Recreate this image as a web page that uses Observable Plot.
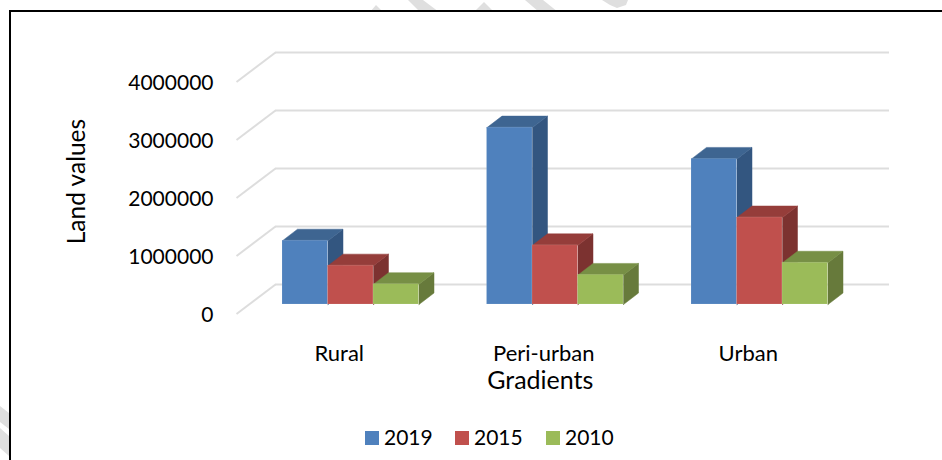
<!DOCTYPE html>
<html><head><meta charset="utf-8">
<script src="https://cdn.jsdelivr.net/npm/d3@7"></script>
<script src="https://cdn.jsdelivr.net/npm/@observablehq/plot@0.6"></script>
<style>
html,body{margin:0;padding:0;background:#fff;width:942px;height:460px;overflow:hidden;font-family:Lato,sans-serif;color:#000}
#frame{position:absolute;left:9px;top:10px;right:-5px;bottom:-5px;border-left:2.6px solid #000;border-top:2px solid #000;background:#fff}
#chart{position:absolute;left:0;top:0}
#chart svg{display:block;background:transparent}
#legend{position:absolute;left:0;top:420px;width:942px;height:40px}
#legend span{position:absolute;font-size:21px;line-height:34px;top:0}
#legend i{position:absolute;width:14px;height:14px;top:11px}
.wm{position:absolute;left:0;top:0;width:942px;height:460px;background:#dfdfdf}
</style></head><body>
<div id="marks"></div>
<div id="frame"></div>
<div id="chart"></div>
<div id="legend"></div>
<script>
const categories = ["Rural", "Peri-urban", "Urban"];
const years = ["2019", "2015", "2010"];
const v2019 = [1100000, 3050000, 2510000];
const v2015 = [670000, 1020000, 1500000];
const v2010 = [350000, 510000, 720000];
const yTicks = [0, 1000000, 2000000, 3000000, 4000000];
const frontColors = ["#4f81bd", "#c0504d", "#9bbb59"];
const topColors = ["#3e6591", "#953d3a", "#778f45"];
const sideColors = ["#335680", "#7c3230", "#677a3b"];
const seriesValues = [v2019, v2015, v2010];

// faint watermark strokes outside the framed area (page decoration, not data)
const watermark = [
  "370px 12px,376px 5px,383px 12px",
  "408px 0,423px 0,439px 12px,420px 12px",
  "474px 12px,484px 2px,494px 12px",
  "525px 0,543px 0,558px 12px,539px 12px",
  "602px 0,628px 0,626px 5px,617px 8px,610px 5px",
  "0 406px,9px 413px,9px 429px,0 422px",
  "0 428px,9px 436px,9px 456px,0 448px"
];
const marksLayer = d3.select("#marks");
watermark.forEach(p => marksLayer.append("div").attr("class", "wm").style("clip-path", `polygon(${p})`));

// chart-space projection: x in category steps, y in land-value units
const stepPx = 204.5, unitPx = 58 / 1e6, H = 420, W = 942;
const x0 = 282, y0 = 304;
const barW = 45.5 / stepPx;
const dX = 15 / stepPx, dY = 11.5 / unitPx;           // depth of one bar
const wallFrontX = (236 - x0) / stepPx, wallBackX = (275 - x0) / stepPx, wallEndX = (889 - x0) / stepPx;
const frontShift = -9.5 / unitPx, backShift = 20 / unitPx;

const faces = [];
const fronts = [];
seriesValues.forEach((vals, s) => vals.forEach((v, c) => {
  const a = c + s * barW, b = a + barW;
  fronts.push({s, x1: a, x2: b, y1: 0, y2: v});
  faces.push({s, kind: "top", id: `t${s}${c}`, pts: [[a, v], [a + dX, v + dY], [b + dX, v + dY], [b, v], [a, v]]});
  faces.push({s, kind: "side", id: `s${s}${c}`, pts: [[b, 0], [b + dX, dY], [b + dX, v + dY], [b, v], [b, 0]]});
}));
const facePoints = (s, kind) => faces.filter(f => f.s === s && f.kind === kind)
  .flatMap(f => f.pts.map(p => ({id: f.id, x: p[0], y: p[1]})));

const barMarks = [0, 1, 2].flatMap(s => [
  Plot.line(facePoints(s, "side"), {x: "x", y: "y", z: "id", fill: sideColors[s], stroke: sideColors[s], strokeWidth: 0.5, curve: "linear"}),
  Plot.line(facePoints(s, "top"), {x: "x", y: "y", z: "id", fill: topColors[s], stroke: topColors[s], strokeWidth: 0.5, curve: "linear"}),
  Plot.rect(fronts.filter(f => f.s === s), {x1: "x1", x2: "x2", y1: "y1", y2: "y2", fill: frontColors[s], stroke: "#ffffff", strokeOpacity: 0.2, strokeWidth: 0.6})
]);

const chart = Plot.plot({
  width: W, height: H, margin: 0,
  style: {fontFamily: "Lato, sans-serif", background: "transparent", color: "#000"},
  x: {type: "linear", domain: [-x0 / stepPx, (W - x0) / stepPx], range: [0, W], axis: null},
  y: {type: "linear", domain: [(y0 - H) / unitPx, y0 / unitPx], range: [H, 0], axis: null},
  marks: [
    Plot.ruleY(yTicks, {y: d => d + backShift, x1: wallBackX, x2: wallEndX, stroke: "#dddddd", strokeWidth: 2}),
    Plot.link(yTicks, {x1: wallFrontX, x2: wallBackX, y1: d => d + frontShift, y2: d => d + backShift, stroke: "#dddddd", strokeWidth: 2}),
    ...barMarks,
    Plot.text(yTicks, {x: (213 - x0) / stepPx, y: d => d + frontShift, dy: 1, text: d => String(d), textAnchor: "end", fontSize: 21, fill: "#000"}),
    Plot.text(categories, {x: (d, i) => i + 1.5 * barW, frameAnchor: "top", dy: 345, dx: -11.5, text: d => d, fontSize: 22, fill: "#000"}),
    Plot.text(["Gradients"], {x: 1 + 1.5 * barW, frameAnchor: "top", dy: 371, dx: -15, text: d => d, fontSize: 25, fill: "#000"}),
    Plot.text(["Land values"], {frameAnchor: "left", dx: 77, y: 2.12e6, rotate: -90, textAnchor: "middle", text: d => d, fontSize: 24.5, fill: "#000"})
  ]
});
document.getElementById("chart").append(chart);

// legend below the SVG
const legend = d3.select("#legend");
const swatchX = [365, 455, 546];
years.forEach((y, i) => {
  legend.append("i").style("left", swatchX[i] + "px").style("background", frontColors[i]);
  legend.append("span").style("left", (swatchX[i] + 19) + "px").text(y);
});
</script>
</body></html>
